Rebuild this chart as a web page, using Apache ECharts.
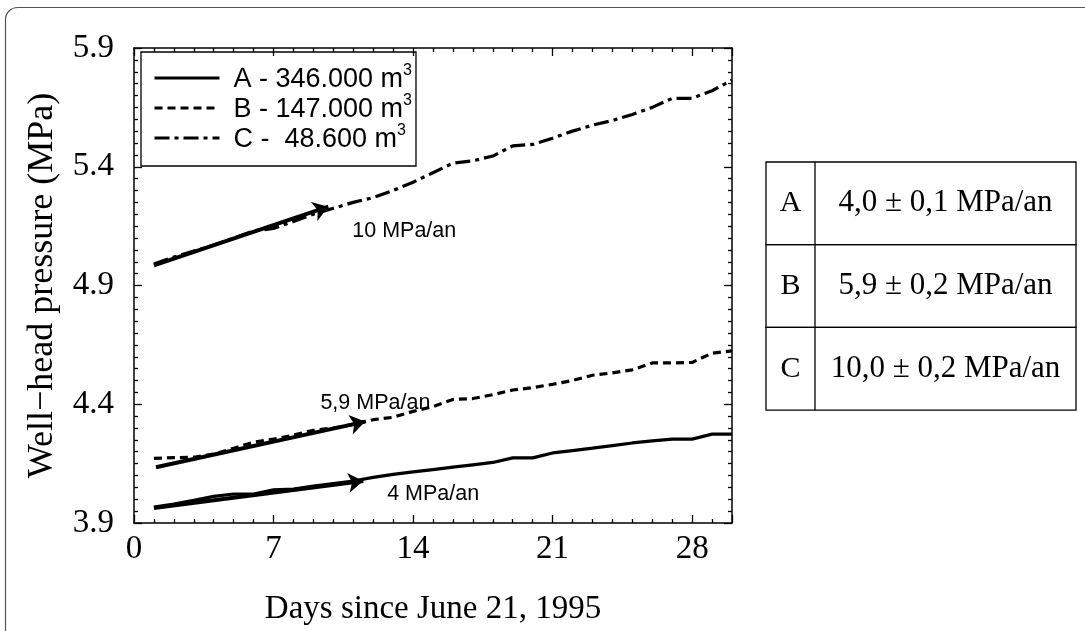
<!DOCTYPE html>
<html>
<head>
<meta charset="utf-8">
<script src="https://cdn.jsdelivr.net/npm/echarts@6/dist/echarts.min.js"></script>
<style>html,body{margin:0;padding:0;background:#fff;}#chart{width:1085px;height:631px;}</style>
</head>
<body>
<div id="chart"></div>
<script>
// ---- data ----
const days = [1,2,3,4,5,6,7,8,9,10,11,12,13,14,15,16,17,18,19,20,21,22,23,24,25,26,27,28,29,30];
const seriesA = [3.967,3.980,3.995,4.012,4.022,4.022,4.040,4.043,4.055,4.066,4.077,4.092,4.105,4.115,4.125,4.135,4.145,4.155,4.174,4.174,4.195,4.205,4.215,4.226,4.237,4.246,4.253,4.253,4.274,4.274];
const seriesB = [4.172,4.175,4.177,4.190,4.215,4.240,4.253,4.270,4.290,4.300,4.315,4.335,4.345,4.370,4.390,4.420,4.424,4.440,4.460,4.470,4.484,4.500,4.522,4.532,4.545,4.574,4.574,4.576,4.615,4.625];
const seriesC = [4.990,5.020,5.045,5.070,5.100,5.130,5.140,5.170,5.200,5.225,5.250,5.270,5.300,5.335,5.375,5.415,5.425,5.445,5.488,5.494,5.520,5.550,5.575,5.595,5.620,5.650,5.688,5.688,5.720,5.765];
const seriesNames = ['A - 346.000 m', 'B - 147.000 m', 'C -  48.600 m'];
const superscript = '3';
const arrowA = [[1.0, 3.963], [11.5, 4.077]];
const arrowB = [[1.1, 4.135], [11.6, 4.327]];
const arrowC = [[1.0, 4.985], [9.75, 5.232]];
const annotationTexts = ['10 MPa/an', '5,9 MPa/an', '4 MPa/an'];
const annotationDays = [10.95, 9.35, 12.7];
const annotationPressures = [5.128, 4.405, 4.02];
const tableLabels = ['A', 'B', 'C'];
const tableRates = ['4,0 \u00b1 0,1 MPa/an', '5,9 \u00b1 0,2 MPa/an', '10,0 \u00b1 0,2 MPa/an'];
const xMin = 0, xMax = 30, xInterval = 7;
const yMin = 3.9, yMax = 5.9, yInterval = 0.5;
const xName = 'Days since June 21, 1995';
const yName = 'Well\u2212head pressure (MPa)';

// ---- chart ----
const chart = echarts.init(document.getElementById('chart'), null, {renderer: 'canvas'});
const serif = 'Liberation Serif';
const sans = 'Liberation Sans';
const dashes = ['solid', [8, 5], [15, 5, 4, 5]];
const arrows = [arrowA, arrowB, arrowC];
const values = [seriesA, seriesB, seriesC];

const tickCommon = {color: '#000', width: 1.3};
function xAxisDef(pos, labels) {
  return {
    type: 'value', position: pos, min: xMin, max: xMax, interval: xInterval,
    axisLine: {show: true, onZero: false, lineStyle: {color: '#000', width: 1.5}},
    axisTick: {show: true, inside: true, length: 8, lineStyle: tickCommon},
    minorTick: {show: true, splitNumber: 7, length: 4, lineStyle: tickCommon},
    splitLine: {show: false}, minorSplitLine: {show: false},
    axisLabel: {show: labels, color: '#000', fontFamily: serif, fontSize: 33, margin: 10,
      showMaxLabel: false},
    name: labels ? xName : '', nameLocation: 'middle', nameGap: 70,
    nameTextStyle: {color: '#000', fontFamily: serif, fontSize: 33}
  };
}
function yAxisDef(pos, labels) {
  return {
    type: 'value', position: pos, min: yMin, max: yMax, interval: yInterval,
    axisLine: {show: true, onZero: false, lineStyle: {color: '#000', width: 1.5}},
    axisTick: {show: true, inside: true, length: 8, lineStyle: tickCommon},
    minorTick: {show: true, splitNumber: 10, length: 4, lineStyle: tickCommon},
    splitLine: {show: false}, minorSplitLine: {show: false},
    axisLabel: {show: labels, color: '#000', fontFamily: serif, fontSize: 33, margin: 20,
      formatter: v => v.toFixed(1)},
    name: labels ? yName : '', nameLocation: 'middle', nameGap: 73, nameRotate: 90,
    nameTextStyle: {color: '#000', fontFamily: serif, fontSize: 36}
  };
}

const series = values.map((vals, i) => ({
  name: seriesNames[i], type: 'line', xAxisIndex: 0, yAxisIndex: 0,
  data: days.map((d, k) => [d, vals[k]]),
  symbol: 'none', smooth: false,
  lineStyle: {color: '#000', width: 3.2, type: dashes[i]},
  itemStyle: {color: '#000'},
  markLine: {
    silent: true, animation: false,
    symbol: ['none', 'arrow'], symbolSize: 15,
    itemStyle: {color: '#000'},
    lineStyle: {color: '#000', width: 4, type: 'solid'},
    label: {show: false},
    data: [[{coord: arrows[i][0]}, {coord: arrows[i][1]}]]
  }
}));
series.push({
  name: 'annotations', type: 'scatter', xAxisIndex: 0, yAxisIndex: 0,
  symbolSize: 0.01, itemStyle: {color: '#000'}, silent: true,
  data: annotationTexts.map((t, i) => ({name: t, value: [annotationDays[i], annotationPressures[i]]})),
  label: {show: true, position: 'right', distance: 0, formatter: '{b}',
    color: '#000', opacity: 1, fontFamily: sans, fontSize: 21.5}
});

const tableX = 766, tableY = 162, tableW = 310, rowH = 82.7, divX = 49;
const tableGraphics = [];
tableLabels.forEach((lab, i) => {
  tableGraphics.push({type: 'rect',
    shape: {x: tableX, y: tableY + i * rowH, width: tableW, height: rowH}, style: {fill: 'none', stroke: '#000', lineWidth: 1.3}});
  tableGraphics.push({type: 'line', shape: {x1: tableX + divX, y1: tableY + i * rowH, x2: tableX + divX, y2: tableY + (i + 1) * rowH},
    style: {stroke: '#000', lineWidth: 1.3}});
  tableGraphics.push({type: 'text', x: tableX + divX / 2, y: tableY + i * rowH + rowH / 2,
    style: {text: lab, fontFamily: serif, fontSize: 30, fill: '#000', textAlign: 'center', textVerticalAlign: 'middle'}});
  tableGraphics.push({type: 'text', x: tableX + divX + (tableW - divX) / 2, y: tableY + i * rowH + rowH / 2,
    style: {text: tableRates[i], fontFamily: serif, fontSize: 31, fill: '#000', textAlign: 'center', textVerticalAlign: 'middle'}});
});

const option = {
  animation: false,
  backgroundColor: '#fff',
  grid: {left: 134, right: 353, top: 48, bottom: 102, containLabel: false},
  xAxis: [xAxisDef('bottom', true), xAxisDef('top', false)],
  yAxis: [yAxisDef('left', true), yAxisDef('right', false)],
  legend: {
    data: seriesNames.map((n, i) => ({name: n, itemStyle: {opacity: 0},
      lineStyle: {color: '#000', width: 3, type: dashes[i]}})),
    orient: 'vertical', left: 141, top: 52,
    padding: [11, 4, 13, 12], itemGap: 0, itemWidth: 65, itemHeight: 14,
    borderColor: '#000', borderWidth: 1.3, borderRadius: 0,
    selectedMode: false,
    formatter: n => '{m|' + n + '}{s|' + superscript + '}',
    textStyle: {
      color: '#000',
      rich: {
        m: {fontFamily: sans, fontSize: 27, padding: [3, 0, 0, 9], color: '#000'},
        s: {fontFamily: sans, fontSize: 16, lineHeight: 16, padding: [0, 0, 14, 0], color: '#000'}
      }
    }
  },
  graphic: [
    {type: 'rect', z: -1, shape: {x: 5.5, y: 7.5, width: 1200, height: 700, r: 12},
      style: {fill: 'none', stroke: '#555', lineWidth: 1.2}},
    ...tableGraphics
  ],
  series: series
};
chart.setOption(option);
</script>
</body>
</html>
